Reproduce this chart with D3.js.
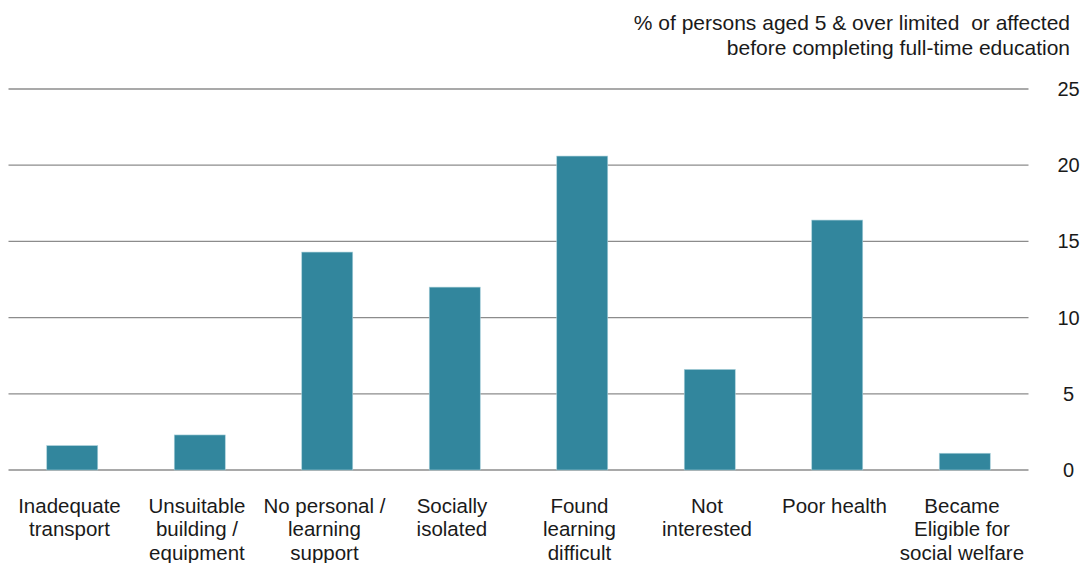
<!DOCTYPE html>
<html>
<head>
<meta charset="utf-8">
<script src="https://cdn.jsdelivr.net/npm/d3@7"></script>
<style>
  html, body { margin: 0; padding: 0; background: #ffffff; }
  svg { display: block; font-family: "Liberation Sans", Arial, sans-serif; }
</style>
</head>
<body>
<svg id="chart" width="1085" height="563"></svg>
<script>
// Reasons persons were limited or affected before completing full-time education
const categories = [
  ["Inadequate", "transport"],
  ["Unsuitable", "building /", "equipment"],
  ["No personal /", "learning", "support"],
  ["Socially", "isolated"],
  ["Found", "learning", "difficult"],
  ["Not", "interested"],
  ["Poor health"],
  ["Became", "Eligible for", "social welfare"]
];
const values = [1.6, 2.3, 14.3, 12.0, 20.6, 6.6, 16.4, 1.1];
const yTicks = [0, 5, 10, 15, 20, 25];
const titleLines = [
  "% of persons aged 5 & over limited  or affected",
  "before completing full-time education"
];

const svg = d3.select("#chart");
const plotLeft = 8.5, plotRight = 1028.5, plotTop = 89, plotBottom = 470;

const x = d3.scaleBand()
  .domain(d3.range(categories.length))
  .range([plotLeft, plotRight])
  .paddingInner(0.6)
  .paddingOuter(0.3);

const y = d3.scaleLinear().domain([0, 25]).range([plotBottom, plotTop]);

// horizontal gridlines
svg.append("g")
  .selectAll("line")
  .data(yTicks)
  .join("line")
  .attr("x1", plotLeft)
  .attr("x2", plotRight)
  .attr("y1", d => y(d))
  .attr("y2", d => y(d))
  .attr("stroke", "#8c8c8c")
  .attr("stroke-width", 1.3);

// bars
svg.append("g")
  .selectAll("rect")
  .data(values)
  .join("rect")
  .attr("x", (d, i) => x(i))
  .attr("width", x.bandwidth())
  .attr("y", d => y(d))
  .attr("height", d => y(0) - y(d))
  .attr("fill", "#32869d")
  .attr("stroke", "#a9d0da")
  .attr("stroke-width", 0.6);

// right-hand value axis
const yAxis = d3.axisRight(y).tickValues(yTicks).tickSize(0).tickPadding(0);
const ga = svg.append("g")
  .attr("transform", `translate(1068.5,0)`)
  .call(yAxis);
ga.select(".domain").remove();
ga.selectAll("text")
  .attr("text-anchor", "middle")
  .attr("x", 0)
  .attr("font-size", 20)
  .attr("font-family", "'Liberation Sans', Arial, sans-serif")
  .attr("fill", "#1a1a1a");

// category labels, centred a little left of each bar
const labelX = i => x(i) + x.bandwidth() / 2 - 2.8;
const lbl = svg.append("g")
  .selectAll("text")
  .data(categories)
  .join("text")
  .attr("x", (d, i) => labelX(i))
  .attr("y", 512.5)
  .attr("text-anchor", "middle")
  .attr("font-size", 20.5)
  .attr("fill", "#1a1a1a");
lbl.selectAll("tspan")
  .data((d, i) => d.map(t => ({ t, i })))
  .join("tspan")
  .attr("x", d => labelX(d.i))
  .attr("dy", (d, j) => j === 0 ? 0 : 23.6)
  .text(d => d.t);

// axis title, right-aligned above the value axis
svg.append("text")
  .attr("text-anchor", "end")
  .attr("font-size", 21)
  .attr("fill", "#1a1a1a")
  .style("white-space", "pre")
  .selectAll("tspan")
  .data(titleLines)
  .join("tspan")
  .attr("x", 1070)
  .attr("y", (d, i) => 30 + i * 25)
  .text(d => d);
</script>
</body>
</html>
